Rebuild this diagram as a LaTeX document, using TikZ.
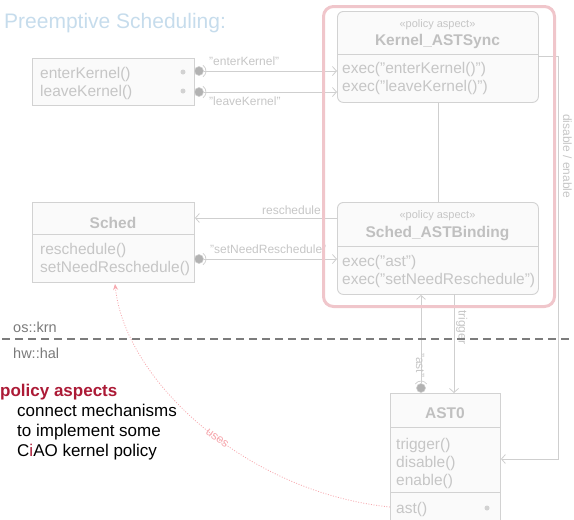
\documentclass[tikz,border=0pt]{standalone}
\usepackage{fontspec}
\setmainfont{Liberation Sans}
\usetikzlibrary{arrows.meta}
\definecolor{boxline}{HTML}{D2D2D2}
\definecolor{boxfill}{HTML}{FAFAFA}
\definecolor{boxtext}{HTML}{C6C6C6}
\definecolor{headtext}{HTML}{C0C0C0}
\definecolor{conncol}{HTML}{CFCFCF}
\definecolor{framepink}{HTML}{F0C6CB}
\definecolor{titleblue}{HTML}{C6DCEC}
\definecolor{ciaored}{HTML}{AC1A36}
\definecolor{usespink}{HTML}{F6A9AF}
\definecolor{ballfill}{HTML}{B2B2B2}
\definecolor{dashcol}{HTML}{7C7C7C}
\definecolor{layertext}{HTML}{7A7A7A}
\tikzset{
  umlbox/.style={draw=boxline, fill=boxfill, line width=0.9pt, inner sep=0pt, anchor=north west},
  rbox/.style={umlbox, rounded corners=6pt},
  sep/.style={draw=boxline, line width=0.9pt},
  txt/.style={inner sep=0pt, anchor=base west, text=boxtext, font=\fontsize{15.5}{18}\selectfont},
  stereo/.style={inner sep=0pt, anchor=base, text=boxtext, font=\fontsize{11}{13}\selectfont},
  head/.style={inner sep=0pt, anchor=base, text=headtext, font=\bfseries\fontsize{15.5}{18}\selectfont},
  lbl/.style={inner sep=0pt, text=boxtext, font=\fontsize{12}{14}\selectfont},
  conn/.style={draw=conncol, line width=0.8pt, -{Straight Barb[length=4pt,width=9pt,line width=0.8pt]}},
  plainconn/.style={draw=conncol, line width=0.8pt},
  ball/.style={circle, minimum size=9pt, inner sep=0pt, fill=ballfill, draw=boxline, line width=0.6pt},
  socket/.style={draw=boxline, line width=0.8pt},
  smalldot/.style={circle, minimum size=5pt, inner sep=0pt, fill=boxline},
  layer/.style={inner sep=0pt, anchor=base west, text=layertext, font=\fontsize{14.5}{17}\selectfont},
  note/.style={inner sep=0pt, anchor=base west, text=black, font=\fontsize{17}{20}\selectfont},
  usesarrow/.style={draw=usespink, line width=0.8pt, dash pattern=on 1pt off 1.6pt, -{Stealth[length=6pt,width=5pt]}}
}
\begin{document}
\begin{tikzpicture}[x=1pt,y=-1pt]
\useasboundingbox (0,0) rectangle (574,520);

% title
\node[inner sep=0pt, anchor=base west, text=titleblue, font=\fontsize{21}{25}\selectfont] (title) at (4,28) {Preemptive Scheduling:};

% kernel interface box
\node[umlbox, minimum width=162pt, minimum height=47pt] (kbox) at (32,58) {};
\node[txt] (kt1) at (40,78) {enterKernel()};
\node[txt] (kt2) at (40,96) {leaveKernel()};
\node[smalldot] (kd1) at (183,72) {};
\node[smalldot] (kd2) at (183,91) {};

% Kernel_ASTSync
\node[rbox, minimum width=201pt, minimum height=91pt] (ks) at (337,11) {};
\draw[sep] (337,54) -- (538,54);
\node[stereo] (ks0) at (437.5,27) {«policy aspect»};
\node[head] (ks1) at (437.5,45) {Kernel\_ASTSync};
\node[txt] (ks2) at (342,73) {exec("enterKernel()")};
\node[txt] (ks3) at (342,91) {exec("leaveKernel()")};

% Sched
\node[umlbox, minimum width=162pt, minimum height=80pt] (sched) at (32,202) {};
\draw[sep] (32,234) -- (194,234);
\node[head] (sc0) at (113,228) {Sched};
\node[txt] (sc1) at (40,254) {reschedule()};
\node[txt] (sc2) at (40,272) {setNeedReschedule()};

% Sched_ASTBinding
\node[rbox, minimum width=201pt, minimum height=92pt] (sb) at (337,202) {};
\draw[sep] (337,246) -- (538,246);
\node[stereo] (sb0) at (437.5,218) {«policy aspect»};
\node[head] (sb1) at (437.5,237) {Sched\_ASTBinding};
\node[txt] (sb2) at (342,266) {exec("ast")};
\node[txt] (sb3) at (342,284) {exec("setNeedReschedule")};

% AST0
\node[umlbox, minimum width=110pt, minimum height=132pt] (ast0) at (390,393) {};
\draw[sep] (390,427) -- (500,427);
\draw[sep] (390,492) -- (500,492);
\node[head] (a0) at (445,418) {AST0};
\node[txt] (a1) at (396,449) {trigger()};
\node[txt] (a2) at (396,467) {disable()};
\node[txt] (a3) at (396,485) {enable()};
\node[txt] (a4) at (396,513) {ast()};
\node[smalldot] (a4d) at (487,508) {};

% lollipops
\node[ball] (b1) at (199,71) {};
\node[ball] (b2) at (199,92) {};
\node[ball] (b3) at (199,259) {};
\node[ball] (b4) at (421,388) {};
\draw[socket] (b1.center) ++(-55:7) arc (-55:55:7);
\draw[socket] (b2.center) ++(-55:7) arc (-55:55:7);
\draw[socket] (b3.center) ++(-55:7) arc (-55:55:7);
\draw[socket] (b4.center) ++(215:7) arc (215:325:7);

% connectors
\draw[conn] (b1) -- (b1 -| ks.west);
\node[lbl, anchor=base west] (l1) at (209,65) {"enterKernel"};
\draw[conn] (b2) -- (b2 -| ks.west);
\node[lbl, anchor=base west] (l2) at (209,105) {"leaveKernel"};

\coordinate (r1) at (337,218);
\draw[conn] (r1) -- (r1 -| sched.east);
\node[lbl, anchor=base east] (l3) at (321,214) {reschedule};

\draw[conn] (b3) -- (b3 -| sb.west);
\node[lbl, anchor=base west] (l4) at (210,253) {"setNeedReschedule"};

\draw[plainconn] (ks) -- (sb);

\draw[conn] (b4) -- (b4 |- sb.south);
\node[lbl, rotate=-90, anchor=base west] (l5) at (416,353) {"ast"};

\coordinate (t1) at (454,294);
\draw[conn] (t1) -- (t1 |- ast0.north);
\node[lbl, rotate=-90, anchor=base west] (l6) at (458.5,310) {trigger};

\coordinate (d0) at (538,56);
\coordinate (d1) at (558,56);
\coordinate (d2) at (558,459);
\draw[conn] (d0) -- (d1) -- (d2) -- (d2 -| ast0.east);
\node[lbl, rotate=-90, anchor=base west] (l7) at (563,114) {disable / enable};

% policy frame
\node[draw=framepink, line width=3pt, rounded corners=10pt, minimum width=231pt, minimum height=300pt, inner sep=0pt, anchor=north west] (frame) at (322,5) {};

% layers
\draw[dashcol, line width=2pt, dash pattern=on 8pt off 5pt] (2,339) -- (574,339);
\node[layer] (os) at (13,332) {os::krn};
\node[layer] (hw) at (13,358) {hw::hal};

% uses
\coordinate (u0) at (390,507);
\coordinate (u1) at (115,284);
\draw[usesarrow] (u0) .. controls (245,492) and (125,380) .. (u1)
  node[pos=0.45, sloped, inner sep=1pt, text=usespink, font=\fontsize{12}{14}\selectfont] (uses) {uses};

% note
\node[inner sep=0pt, anchor=base west, text=ciaored, font=\bfseries\fontsize{17}{20}\selectfont] (pa) at (0,396) {policy aspects};
\node[note] (n1) at (17,416) {connect mechanisms};
\node[note] (n2) at (17,436) {to implement some};
\node[note] (n3) at (17,456) {C{\color{ciaored}i}AO kernel policy};
\end{tikzpicture}
\end{document}
